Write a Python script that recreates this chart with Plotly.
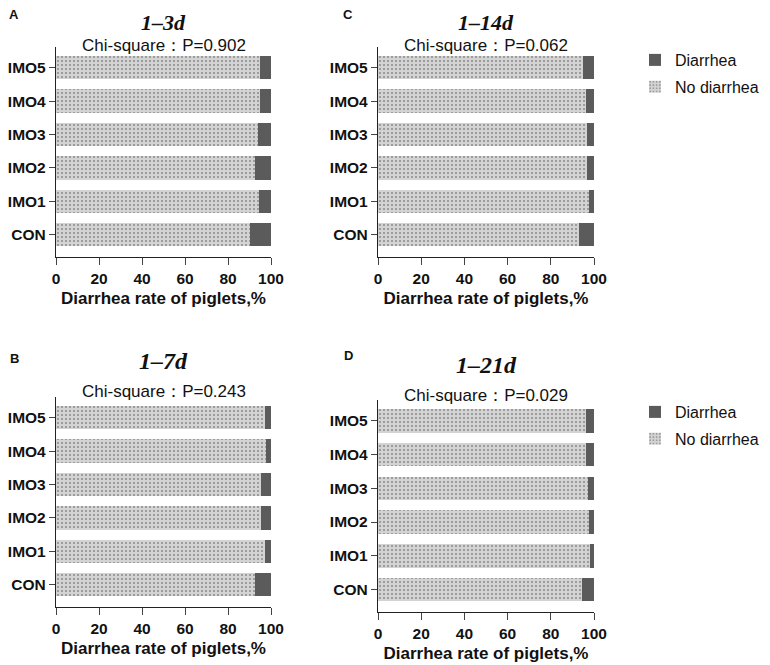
import plotly.graph_objects as go

# ----------- DATA ------------
groups = ["CON", "IMO1", "IMO2", "IMO3", "IMO4", "IMO5"]
rate_1_3d = [9.6, 5.7, 7.5, 6.0, 5.0, 5.0]      # diarrhea rate, %
rate_1_7d = [7.4, 2.9, 4.6, 4.6, 2.3, 2.8]
rate_1_14d = [6.9, 2.1, 3.4, 3.4, 3.9, 5.1]
rate_1_21d = [5.7, 1.7, 2.5, 2.9, 3.7, 3.7]
panel_letters = ["A", "B", "C", "D"]
panel_titles = ["1–3d", "1–7d", "1–14d", "1–21d"]
p_values = ["0.902", "0.243", "0.062", "0.029"]
x_ticks = [0, 20, 40, 60, 80, 100]
# -----------------------------

DARK = "#5b5b5b"
LIGHT = "#d3d3d3"
# the page body has an 8px margin, so the figure is laid out in page pixels minus 8
OFF = 8
W, H = 770 - OFF, 665 - OFF


def px(x):
    return (x - OFF) / W


def py(y):
    return 1 - (y - OFF) / H


# page-px boxes of the four plot areas: (left, right, top, bottom)
boxes = {
    "A": (56, 271, 47, 257),
    "B": (56, 271, 397, 607),
    "C": (378, 594, 47, 257),
    "D": (378, 594, 400, 612),
}
rates = {"A": rate_1_3d, "B": rate_1_7d, "C": rate_1_14d, "D": rate_1_21d}
# letter y, title y, chi-square y (page px)
text_y = {"A": (15, 22, 45), "B": (358, 361, 391), "C": (15, 22, 45), "D": (355, 365, 395)}

tick_font = dict(family="Liberation Sans", size=15.5, color="#111", weight="bold")

fig = go.Figure()
annotations = []

for i, key in enumerate(["A", "C", "B", "D"]):
    idx = i + 1
    xa = "x" if idx == 1 else f"x{idx}"
    ya = "y" if idx == 1 else f"y{idx}"
    diar = rates[key]
    no_diar = [100 - v for v in diar]
    show = key in ("A", "D")
    legend_name = "legend2" if key == "D" else "legend"
    fig.add_trace(go.Bar(
        y=groups, x=no_diar, orientation="h", name="No diarrhea",
        xaxis=xa, yaxis=ya, width=0.7,
        marker=dict(color=LIGHT, line=dict(width=0),
                    pattern=dict(shape=".", fgcolor="#4a4a4a", bgcolor=LIGHT,
                                 size=4, solidity=0.22)),
        showlegend=show, legend=legend_name, legendgroup="no" + key, legendrank=2,
    ))
    fig.add_trace(go.Bar(
        y=groups, x=diar, orientation="h", name="Diarrhea",
        xaxis=xa, yaxis=ya, width=0.7,
        marker=dict(color=DARK, line=dict(width=0)),
        showlegend=show, legend=legend_name, legendgroup="d" + key, legendrank=1,
    ))

    l, r, t, b = boxes[key]
    xkey = "xaxis" if idx == 1 else f"xaxis{idx}"
    ykey = "yaxis" if idx == 1 else f"yaxis{idx}"
    fig.update_layout({
        xkey: dict(domain=[px(l), px(r)], anchor=ya, range=[0, 100], automargin=False,
                   tickvals=x_ticks, ticks="outside", ticklen=7, tickwidth=1.3,
                   showline=True, linecolor="#222", linewidth=1.3,
                   showgrid=False, zeroline=False, tickfont=tick_font,
                   title=dict(text="Diarrhea rate of piglets,%", standoff=6,
                              font=dict(family="Liberation Sans", size=17, color="#111", weight="bold"))),
        ykey: dict(domain=[py(b), py(t)], anchor=xa, automargin=False,
                   categoryorder="array", categoryarray=groups,
                   range=[-0.67, 5.62], ticks="outside", ticklen=6, tickwidth=1.3,
                   showline=True, linecolor="#222", linewidth=1.3,
                   showgrid=False, zeroline=False, tickfont=tick_font),
    })

    ly, ty, cy = text_y[key]
    cx = px((l + r) / 2)
    k = ["A", "B", "C", "D"].index(key)
    top_row = t < 100
    common = dict(xref="paper", yref="paper", showarrow=False, xanchor="center", yanchor="middle")
    annotations.append(dict(text=panel_letters[k], x=px(14 if l < 200 else 348), y=py(ly),
                            font=dict(family="Liberation Sans", size=13, color="#111", weight="bold"),
                            **common))
    annotations.append(dict(text=panel_titles[k], x=cx, y=py(ty),
                            font=dict(family="Liberation Serif", size=22 if top_row else 24,
                                      color="#111", weight="bold", style="italic"), **common))
    annotations.append(dict(text="Chi-square：P=" + p_values[k], x=cx, y=py(cy),
                            font=dict(family="Liberation Sans", size=17, color="#111"), **common))

legend_style = dict(font=dict(family="Liberation Sans", size=16, color="#111"),
                    traceorder="grouped", tracegroupgap=3,
                    xanchor="left", yanchor="top", bgcolor="rgba(0,0,0,0)")
fig.update_layout(
    width=W, height=H,
    margin=dict(l=0, r=0, t=0, b=0),
    paper_bgcolor="white", plot_bgcolor="white",
    barmode="stack",
    annotations=annotations,
    legend=dict(x=px(635), y=py(43), **legend_style),
    legend2=dict(x=px(635), y=py(395), **legend_style),
)

fig.write_html("out.html")
